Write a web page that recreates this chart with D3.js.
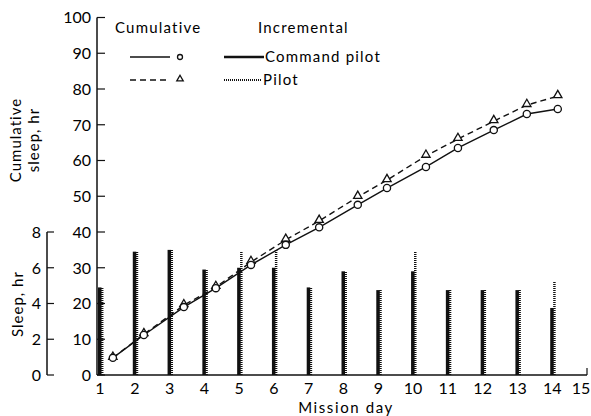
<!DOCTYPE html>
<html>
<head>
<meta charset="utf-8">
<script src="https://cdn.jsdelivr.net/npm/d3@7"></script>
<style>
  body { margin: 0; background: #fff; }
  svg { font-family: Lato, "DejaVu Sans", sans-serif; }
</style>
</head>
<body>
<div id="chart"></div>
<script>
// mission days (bars) and tick labels
var days = [1, 2, 3, 4, 5, 6, 7, 8, 9, 10, 11, 12, 13, 14];
var dayTicks = [1, 2, 3, 4, 5, 6, 7, 8, 9, 10, 11, 12, 13, 14, 15];

// incremental sleep, hr
var commandSleep = [4.9, 6.9, 7.0, 5.9, 6.0, 6.0, 4.9, 5.8, 4.75, 5.8, 4.75, 4.75, 4.75, 3.75];
var pilotSleep   = [4.9, 6.9, 7.0, 5.9, 6.9, 7.0, 4.9, 5.8, 4.75, 6.9, 4.75, 4.75, 4.75, 5.25];

// cumulative sleep, hr (plotted at end of each sleep period)
var cumDay     = [1.37, 2.26, 3.41, 4.33, 5.34, 6.34, 7.3, 8.41, 9.25, 10.37, 11.29, 12.32, 13.27, 14.16];
var cumCommand = [4.8, 11.2, 19.0, 24.3, 30.8, 36.4, 41.3, 47.6, 52.3, 58.2, 63.5, 68.5, 73.0, 74.4];
var cumPilot   = [4.8, 11.4, 19.5, 24.6, 31.6, 37.8, 43.1, 49.8, 54.5, 61.3, 66.0, 71.0, 75.5, 78.0];

var cumTicks = [0, 10, 20, 30, 40, 50, 60, 70, 80, 90, 100];
var sleepTicks = [0, 2, 4, 6, 8];

var width = 591, height = 416;

var svg = d3.select("#chart").append("svg")
  .attr("width", width)
  .attr("height", height);

var x = d3.scaleLinear().domain([1, 15]).range([100, 587]);
var yCum = d3.scaleLinear().domain([0, 100]).range([375, 17.5]);
var ySleep = d3.scaleLinear().domain([0, 8]).range([375, 232]);

// bars: command pilot solid, pilot dotted just to the right
svg.append("g")
  .selectAll("rect")
  .data(days)
  .enter().append("rect")
    .attr("x", function(d){ return x(d) - 2 })
    .attr("width", 3.5)
    .attr("y", function(d, i){ return ySleep(commandSleep[i]) })
    .attr("height", function(d, i){ return ySleep(0) - ySleep(commandSleep[i]) })
    .style("fill", "#111");

svg.append("g")
  .selectAll("line")
  .data(days)
  .enter().append("line")
    .attr("x1", function(d){ return x(d) + 2.2 })
    .attr("x2", function(d){ return x(d) + 2.2 })
    .attr("y1", ySleep(0))
    .attr("y2", function(d, i){ return ySleep(pilotSleep[i]) })
    .attr("stroke", "#111")
    .attr("stroke-width", 2.5)
    .style("stroke-dasharray", "1,1");

// main axis (cumulative)
var axisG = svg.append("g");
axisG.append("line")
  .attr("x1", 97).attr("x2", 97)
  .attr("y1", yCum(100)).attr("y2", yCum(0))
  .attr("stroke", "#111").attr("stroke-width", 1.5);
axisG.selectAll("line.tick")
  .data(cumTicks)
  .enter().append("line")
    .attr("class", "tick")
    .attr("x1", 97).attr("x2", 105)
    .attr("y1", function(d){ return yCum(d) })
    .attr("y2", function(d){ return yCum(d) })
    .attr("stroke", "#111").attr("stroke-width", 1.2);
axisG.selectAll("text")
  .data(cumTicks)
  .enter().append("text")
    .attr("x", 91)
    .attr("y", function(d){ return yCum(d) })
    .attr("dy", "0.36em")
    .attr("text-anchor", "end")
    .style("font-size", "16px")
    .text(function(d){ return d });

// lower left axis (incremental sleep)
var sleepG = svg.append("g");
sleepG.append("line")
  .attr("x1", 47).attr("x2", 47)
  .attr("y1", ySleep(8)).attr("y2", ySleep(0))
  .attr("stroke", "#111").attr("stroke-width", 1.5);
sleepG.selectAll("line.tick")
  .data(sleepTicks)
  .enter().append("line")
    .attr("class", "tick")
    .attr("x1", 47).attr("x2", 54)
    .attr("y1", function(d){ return ySleep(d) })
    .attr("y2", function(d){ return ySleep(d) })
    .attr("stroke", "#111").attr("stroke-width", 1.2);
sleepG.selectAll("text")
  .data(sleepTicks)
  .enter().append("text")
    .attr("x", 41)
    .attr("y", function(d){ return ySleep(d) })
    .attr("dy", "0.36em")
    .attr("text-anchor", "end")
    .style("font-size", "16px")
    .text(function(d){ return d });

// x axis
var xG = svg.append("g");
xG.append("line")
  .attr("x1", 97).attr("x2", x(15))
  .attr("y1", yCum(0)).attr("y2", yCum(0))
  .attr("stroke", "#111").attr("stroke-width", 1.5);
xG.selectAll("line.tick")
  .data(dayTicks)
  .enter().append("line")
    .attr("class", "tick")
    .attr("x1", function(d){ return x(d) })
    .attr("x2", function(d){ return x(d) })
    .attr("y1", yCum(0))
    .attr("y2", yCum(0) - 7)
    .attr("stroke", "#111").attr("stroke-width", 1.2);
xG.selectAll("text")
  .data(dayTicks)
  .enter().append("text")
    .attr("x", function(d){ return d == 15 ? x(d) - 6 : x(d) })
    .attr("y", 394)
    .attr("text-anchor", "middle")
    .style("font-size", "16px")
    .text(function(d){ return d });

svg.append("text")
  .attr("x", 346).attr("y", 413)
  .attr("text-anchor", "middle")
  .style("font-size", "15px")
  .style("letter-spacing", "1.6px")
  .text("Mission day");

// axis titles
svg.append("text")
  .attr("transform", "translate(21,140) rotate(-90)")
  .attr("text-anchor", "middle")
  .style("font-size", "15px")
  .style("letter-spacing", "1px")
  .text("Cumulative");
svg.append("text")
  .attr("transform", "translate(39,140) rotate(-90)")
  .attr("text-anchor", "middle")
  .style("font-size", "15px")
  .style("letter-spacing", "1px")
  .text("sleep, hr");
svg.append("text")
  .attr("transform", "translate(23,304) rotate(-90)")
  .attr("text-anchor", "middle")
  .style("font-size", "15px")
  .style("letter-spacing", "1px")
  .text("Sleep, hr");

// cumulative lines
var lineCmd = d3.line()
  .x(function(d, i){ return x(cumDay[i]) })
  .y(function(d){ return yCum(d) });

svg.append("path")
  .datum(cumPilot)
  .attr("d", lineCmd)
  .attr("fill", "none")
  .attr("stroke", "#111")
  .attr("stroke-width", 1.4)
  .style("stroke-dasharray", "6,4");

svg.append("path")
  .datum(cumCommand)
  .attr("d", lineCmd)
  .attr("fill", "none")
  .attr("stroke", "#111")
  .attr("stroke-width", 1.4);

var tri = d3.symbol().type(d3.symbolTriangle).size(30);

svg.append("g")
  .selectAll("path")
  .data(cumPilot)
  .enter().append("path")
    .attr("d", tri)
    .attr("transform", function(d, i){ return "translate(" + x(cumDay[i]) + "," + (yCum(d) - 1) + ")" })
    .attr("fill", "#fff")
    .attr("stroke", "#111")
    .attr("stroke-width", 1.3);

svg.append("g")
  .selectAll("circle")
  .data(cumCommand)
  .enter().append("circle")
    .attr("cx", function(d, i){ return x(cumDay[i]) })
    .attr("cy", function(d){ return yCum(d) })
    .attr("r", 3.6)
    .attr("fill", "#fff")
    .attr("stroke", "#111")
    .attr("stroke-width", 1.3);

// legend
var leg = svg.append("g").style("font-size", "15px").style("letter-spacing", "1.2px");
leg.append("text").attr("x", 115).attr("y", 33).text("Cumulative");
leg.append("text").attr("x", 258).attr("y", 33).text("Incremental");

leg.append("line").attr("x1", 130).attr("x2", 170).attr("y1", 57).attr("y2", 57)
  .attr("stroke", "#111").attr("stroke-width", 1.4);
leg.append("circle").attr("cx", 180).attr("cy", 57).attr("r", 2.5)
  .attr("fill", "#fff").attr("stroke", "#111").attr("stroke-width", 1.3);

leg.append("line").attr("x1", 130).attr("x2", 170).attr("y1", 80).attr("y2", 80)
  .attr("stroke", "#111").attr("stroke-width", 1.4).style("stroke-dasharray", "6,4");
leg.append("path").attr("d", d3.symbol().type(d3.symbolTriangle).size(18))
  .attr("transform", "translate(180,79)")
  .attr("fill", "#fff").attr("stroke", "#111").attr("stroke-width", 1.3);

leg.append("line").attr("x1", 224).attr("x2", 264).attr("y1", 57).attr("y2", 57)
  .attr("stroke", "#111").attr("stroke-width", 2.5);
leg.append("text").attr("x", 265).attr("y", 62).text("Command pilot");

leg.append("line").attr("x1", 224).attr("x2", 262).attr("y1", 80).attr("y2", 80)
  .attr("stroke", "#111").attr("stroke-width", 2).style("stroke-dasharray", "1,1");
leg.append("text").attr("x", 263).attr("y", 85).text("Pilot");
</script>
</body>
</html>
